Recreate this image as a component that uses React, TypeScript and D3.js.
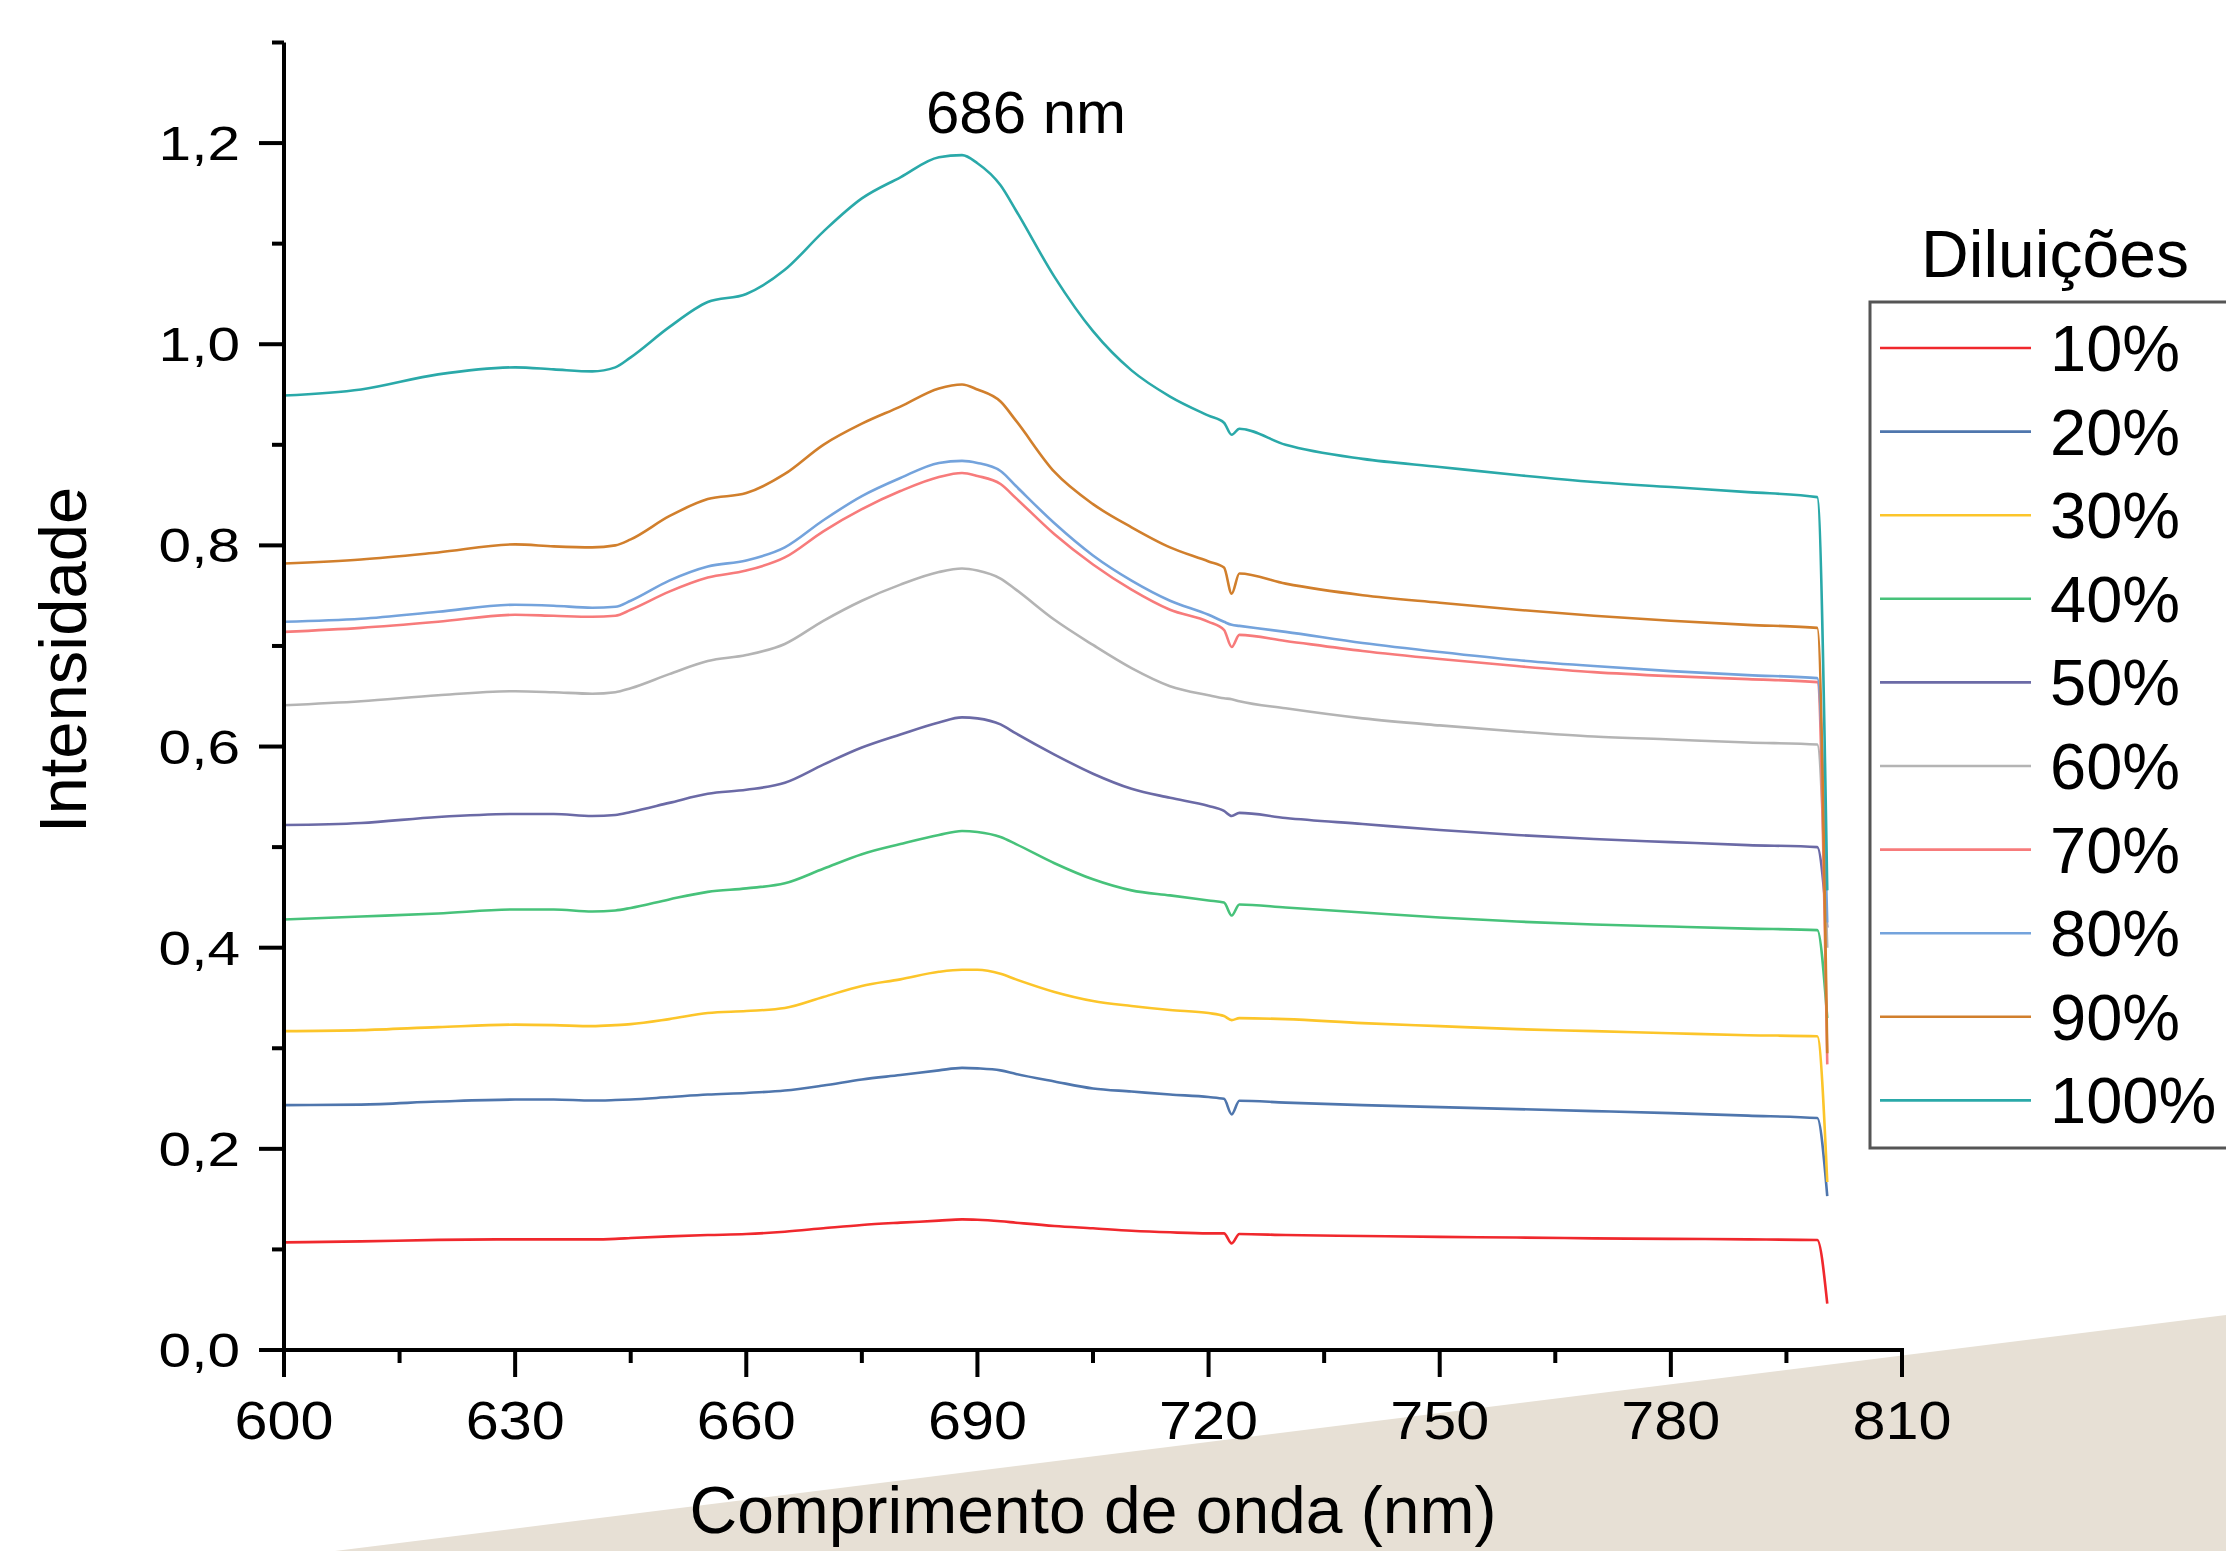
import React from "react";
import * as d3 from "d3";

const WAVELENGTHS = [600, 610, 620, 630, 635, 640, 643, 645, 650, 655, 660, 665, 670, 675, 680, 685, 688, 690, 693, 695, 700, 705, 710, 715, 720, 722, 723, 724, 730, 740, 750, 760, 770, 780, 790, 799, 800.3];

const D10 = [0.107, 0.108, 0.1095, 0.11, 0.11, 0.11, 0.1105, 0.1113, 0.113, 0.1143, 0.1153, 0.1176, 0.121, 0.1243, 0.1266, 0.1286, 0.1299, 0.1295, 0.128, 0.1266, 0.1233, 0.121, 0.1186, 0.117, 0.116, 0.116, 0.106, 0.1153, 0.1143, 0.1133, 0.1125, 0.1118, 0.111, 0.1105, 0.11, 0.1093, 0.046];
const D20 = [0.2435, 0.244, 0.247, 0.249, 0.249, 0.248, 0.2485, 0.249, 0.2515, 0.254, 0.2556, 0.258, 0.263, 0.269, 0.2734, 0.278, 0.2805, 0.28, 0.278, 0.2745, 0.267, 0.26, 0.257, 0.254, 0.2515, 0.2497, 0.2343, 0.2478, 0.246, 0.2435, 0.2415, 0.2395, 0.2375, 0.2355, 0.233, 0.2306, 0.153];
const D30 = [0.317, 0.318, 0.321, 0.3235, 0.323, 0.322, 0.323, 0.324, 0.329, 0.335, 0.337, 0.34, 0.351, 0.362, 0.3685, 0.376, 0.378, 0.378, 0.374, 0.3685, 0.356, 0.347, 0.342, 0.338, 0.335, 0.332, 0.328, 0.33, 0.329, 0.325, 0.322, 0.319, 0.317, 0.315, 0.313, 0.312, 0.167];
const D40 = [0.428, 0.431, 0.434, 0.438, 0.438, 0.436, 0.437, 0.4395, 0.448, 0.4555, 0.459, 0.464, 0.4785, 0.493, 0.503, 0.512, 0.516, 0.515, 0.51, 0.503, 0.484, 0.468, 0.457, 0.452, 0.447, 0.445, 0.432, 0.443, 0.44, 0.435, 0.43, 0.426, 0.423, 0.421, 0.419, 0.4175, 0.33];
const D50 = [0.522, 0.524, 0.53, 0.533, 0.533, 0.531, 0.532, 0.535, 0.544, 0.553, 0.557, 0.564, 0.582, 0.599, 0.612, 0.624, 0.629, 0.628, 0.622, 0.613, 0.592, 0.573, 0.558, 0.549, 0.541, 0.536, 0.531, 0.534, 0.529, 0.523, 0.517, 0.512, 0.508, 0.505, 0.502, 0.5, 0.42];
const D60 = [0.641, 0.645, 0.651, 0.655, 0.654, 0.6525, 0.654, 0.658, 0.672, 0.685, 0.691, 0.702, 0.725, 0.745, 0.761, 0.7735, 0.777, 0.775, 0.767, 0.756, 0.726, 0.701, 0.678, 0.66, 0.651, 0.648, 0.647, 0.645, 0.638, 0.628, 0.621, 0.615, 0.61, 0.607, 0.604, 0.602, 0.4];
const D70 = [0.714, 0.718, 0.724, 0.731, 0.73, 0.729, 0.73, 0.736, 0.754, 0.768, 0.775, 0.788, 0.814, 0.836, 0.854, 0.868, 0.872, 0.869, 0.861, 0.847, 0.811, 0.781, 0.756, 0.736, 0.724, 0.716, 0.699, 0.711, 0.705, 0.695, 0.687, 0.68, 0.674, 0.67, 0.667, 0.664, 0.284];
const D80 = [0.724, 0.727, 0.734, 0.741, 0.74, 0.738, 0.739, 0.745, 0.765, 0.779, 0.785, 0.798, 0.825, 0.849, 0.867, 0.882, 0.884, 0.882, 0.874, 0.859, 0.822, 0.79, 0.765, 0.745, 0.731, 0.724, 0.721, 0.72, 0.714, 0.703, 0.694, 0.686, 0.68, 0.675, 0.671, 0.668, 0.425];
const D90 = [0.782, 0.786, 0.793, 0.801, 0.799, 0.798, 0.8, 0.806, 0.829, 0.846, 0.852, 0.871, 0.9, 0.921, 0.938, 0.956, 0.96, 0.955, 0.943, 0.924, 0.873, 0.841, 0.818, 0.798, 0.784, 0.778, 0.752, 0.772, 0.762, 0.7505, 0.743, 0.736, 0.73, 0.725, 0.721, 0.718, 0.295];
const D100 = [0.949, 0.955, 0.97, 0.977, 0.975, 0.973, 0.977, 0.987, 1.017, 1.042, 1.05, 1.074, 1.112, 1.145, 1.166, 1.186, 1.188, 1.18, 1.158, 1.133, 1.067, 1.013, 0.974, 0.948, 0.929, 0.922, 0.91, 0.916, 0.9, 0.886, 0.878, 0.87, 0.863, 0.858, 0.853, 0.848, 0.457];

const SERIES_LABELS = ["10%", "20%", "30%", "40%", "50%", "60%", "70%", "80%", "90%", "100%"];
const SERIES_VALUES = [D10, D20, D30, D40, D50, D60, D70, D80, D90, D100];
const SERIES_COLORS = ["#f0282d", "#4f76ad", "#fcc52a", "#47c27a", "#6b6aa6", "#b4b4b4", "#f77b7b", "#74a3dc", "#d17f2c", "#2aa9a9"];

const X_MAJOR = [600, 630, 660, 690, 720, 750, 780, 810];
const X_MINOR = [615, 645, 675, 705, 735, 765, 795];
const Y_MAJOR = [0, 0.2, 0.4, 0.6, 0.8, 1.0, 1.2];
const Y_MINOR = [0.1, 0.3, 0.5, 0.7, 0.9, 1.1, 1.3];

const FONT = "'Liberation Sans', Arial, Helvetica, sans-serif";

export default function App() {
  const W = 2226;
  const H = 1551;
  const x = d3.scaleLinear().domain([600, 810]).range([284, 1902]);
  const y = d3.scaleLinear().domain([0, 1.3]).range([1350, 42.5]);
  const line = d3
    .line<number>()
    .x((_, i) => x(WAVELENGTHS[i]))
    .y((d) => y(d))
    .curve(d3.curveMonotoneX);

  const fmtY = (v: number) => v.toFixed(1).replace(".", ",");

  const edge = (px: number) => 1551 - (px - 335) * (236 / 1891);

  const legendX = 1870;
  const legendY0 = 348;
  const legendStep = 83.6;

  return (
    <svg
      width={W}
      height={H}
      viewBox={`0 0 ${W} ${H}`}
      style={{ position: "absolute", left: 0, top: 0, background: "#ffffff" }}
      fontFamily={FONT}
    >
      <rect x={0} y={0} width={W} height={H} fill="#ffffff" />
      <polygon points={`335,1551 2226,${edge(2226)} 2226,1551`} fill="#e7e0d5" />

      {SERIES_VALUES.map((vals, i) => (
        <path
          key={SERIES_LABELS[i]}
          d={line(vals) || ""}
          fill="none"
          stroke={SERIES_COLORS[i]}
          strokeWidth={2.6}
          strokeLinejoin="round"
        />
      ))}

      <line x1={x(600)} x2={x(600)} y1={y(1.3)} y2={y(0) + 2} stroke="#000" strokeWidth={4} />
      {Y_MAJOR.map((v) => (
        <g key={"ym" + v}>
          <line x1={x(600) - 25} x2={x(600)} y1={y(v)} y2={y(v)} stroke="#000" strokeWidth={4} />
          <text
            transform={`translate(240, ${y(v) + 17}) scale(1.22, 1)`}
            textAnchor="end"
            fontSize={48}
            fill="#000"
          >
            {fmtY(v)}
          </text>
        </g>
      ))}
      {Y_MINOR.map((v) => (
        <line key={"yn" + v} x1={x(600) - 12} x2={x(600)} y1={y(v)} y2={y(v)} stroke="#000" strokeWidth={4} />
      ))}

      <line x1={x(600) - 25} x2={x(810) + 2} y1={y(0)} y2={y(0)} stroke="#000" strokeWidth={4} />
      {X_MAJOR.map((v) => (
        <g key={"xm" + v}>
          <line x1={x(v)} x2={x(v)} y1={y(0)} y2={y(0) + 27} stroke="#000" strokeWidth={4} />
          <text
            transform={`translate(${x(v)}, 1439) scale(1.12, 1)`}
            textAnchor="middle"
            fontSize={53}
            fill="#000"
          >
            {v}
          </text>
        </g>
      ))}
      {X_MINOR.map((v) => (
        <line key={"xn" + v} x1={x(v)} x2={x(v)} y1={y(0)} y2={y(0) + 13} stroke="#000" strokeWidth={4} />
      ))}

      <text x={1093} y={1533} textAnchor="middle" fontSize={66} fill="#000">
        Comprimento de onda (nm)
      </text>
      <text
        transform={`translate(86, 660) rotate(-90)`}
        textAnchor="middle"
        fontSize={67}
        fill="#000"
      >
        Intensidade
      </text>

      <text x={1026} y={133} textAnchor="middle" fontSize={60} fill="#000">
        686 nm
      </text>

      <text x={2055} y={277} textAnchor="middle" fontSize={66} fill="#000">
        Diluições
      </text>
      <rect x={legendX} y={302} width={420} height={846} fill="#ffffff" stroke="#555" strokeWidth={3} />
      {SERIES_LABELS.map((lab, i) => {
        const ly = legendY0 + i * legendStep;
        return (
          <g key={"lg" + lab}>
            <line x1={1880} x2={2031} y1={ly} y2={ly} stroke={SERIES_COLORS[i]} strokeWidth={2.6} />
            <text x={2050} y={ly + 23} fontSize={65} fill="#000">
              {lab}
            </text>
          </g>
        );
      })}
    </svg>
  );
}
